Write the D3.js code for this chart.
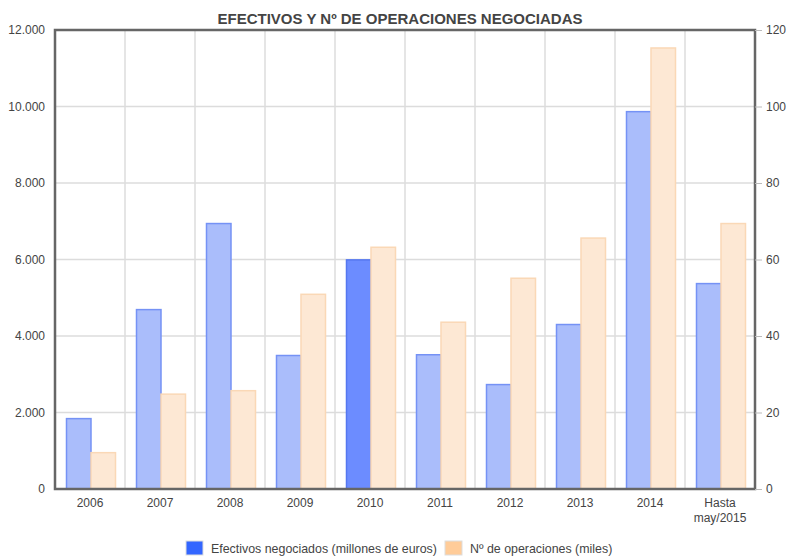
<!DOCTYPE html>
<html>
<head>
<meta charset="utf-8">
<script src="https://cdn.jsdelivr.net/npm/d3@7"></script>
<style>
  body { margin: 0; background: #fff; }
  text { font-family: "Liberation Sans", Arial, sans-serif; fill: #444; }
</style>
</head>
<body>
<svg width="790" height="557"></svg>
<script>
const categories = ["2006", "2007", "2008", "2009", "2010", "2011", "2012", "2013", "2014", "Hasta may/2015"];
const efectivos = [1840, 4690, 6940, 3490, 5990, 3510, 2730, 4300, 9865, 5370];
const operaciones = [9.5, 24.8, 25.7, 50.9, 63.2, 43.6, 55.1, 65.6, 115.3, 69.4];
const leftTicks = [0, 2000, 4000, 6000, 8000, 10000, 12000];
const rightTicks = [0, 20, 40, 60, 80, 100, 120];
const highlight = "2010";

const margin = { top: 30, right: 35, bottom: 68, left: 55 };
const svg = d3.select("svg");
const width = +svg.attr("width") - margin.left - margin.right;
const height = +svg.attr("height") - margin.top - margin.bottom;
const g = svg.append("g").attr("transform", `translate(${margin.left},${margin.top})`);

const data = categories.map((c, i) => ({ cat: c, ef: efectivos[i], op: operaciones[i] }));

const x = d3.scaleBand().domain(categories).range([0, width]);
const yL = d3.scaleLinear().domain([0, 12000]).range([height, 0]);
const yR = d3.scaleLinear().domain([0, 120]).range([height, 0]);
const fmt = d3.format(",");
const esFmt = v => fmt(v).replace(/,/g, ".");

// title
svg.append("text")
    .attr("x", 400)
    .attr("y", 24)
    .attr("text-anchor", "middle")
    .style("font-size", "15px")
    .style("font-weight", "bold")
    .text("EFECTIVOS Y Nº DE OPERACIONES NEGOCIADAS");

// gridlines
g.append("g").selectAll("line")
    .data(leftTicks)
    .enter().append("line")
    .attr("x1", 0).attr("x2", width)
    .attr("y1", d => yL(d)).attr("y2", d => yL(d))
    .attr("stroke", "#dcdcdc").attr("stroke-width", 1.5);

g.append("g").selectAll("line")
    .data(categories.slice(1))
    .enter().append("line")
    .attr("x1", d => x(d)).attr("x2", d => x(d))
    .attr("y1", 0).attr("y2", height)
    .attr("stroke", "#dcdcdc").attr("stroke-width", 1.5);

// bars
const barW = 24.5;
const groups = g.selectAll(".grp")
    .data(data)
    .enter().append("g")
    .attr("class", "grp")
    .attr("transform", d => `translate(${x(d.cat) + x.bandwidth() / 2},0)`);

groups.append("rect")
    .attr("x", -barW + 1)
    .attr("y", d => yL(d.ef))
    .attr("width", barW)
    .attr("height", d => height - yL(d.ef))
    .attr("fill", d => d.cat === highlight ? "#6c8cff" : "#aabdfb")
    .attr("stroke", d => d.cat === highlight ? "#5577f0" : "#7592f5")
    .attr("stroke-width", 1.5);

groups.append("rect")
    .attr("x", 1)
    .attr("y", d => yR(d.op))
    .attr("width", barW)
    .attr("height", d => height - yR(d.op))
    .attr("fill", "#fde8d4")
    .attr("stroke", "#fad8b6")
    .attr("stroke-width", 1.5);

// frame
g.append("rect")
    .attr("x", 0).attr("y", 0)
    .attr("width", width).attr("height", height)
    .attr("fill", "none")
    .attr("stroke", "#666").attr("stroke-width", 2.5);

// left axis labels
g.append("g")
    .call(d3.axisLeft(yL).tickValues(leftTicks).tickFormat(esFmt).tickSize(0).tickPadding(10))
    .call(a => a.select(".domain").remove())
    .selectAll("text")
    .style("font-size", "12px")
    .style("font-family", "Liberation Sans, Arial, sans-serif")
    .attr("fill", "#444");

// right axis
g.append("g")
    .attr("transform", `translate(${width},0)`)
    .call(d3.axisRight(yR).tickValues(rightTicks).tickSize(7).tickPadding(4))
    .call(a => a.select(".domain").remove())
    .call(a => a.selectAll("line").attr("stroke", "#bbb"))
    .selectAll("text")
    .style("font-size", "12px")
    .style("font-family", "Liberation Sans, Arial, sans-serif")
    .attr("fill", "#444");

// x labels
const xl = g.append("g")
    .attr("transform", `translate(0,${height})`)
    .selectAll("text")
    .data(categories)
    .enter().append("text")
    .attr("x", d => x(d) + x.bandwidth() / 2)
    .attr("y", 18)
    .attr("text-anchor", "middle")
    .style("font-size", "12px");
xl.each(function(d) {
    const parts = d.startsWith("Hasta") ? ["Hasta", d.replace("Hasta ", "")] : [d];
    d3.select(this).selectAll("tspan")
        .data(parts)
        .enter().append("tspan")
        .attr("x", x(d) + x.bandwidth() / 2)
        .attr("dy", (p, i) => i === 0 ? 0 : 15)
        .text(p => p);
});

// legend
const legend = svg.append("g").attr("transform", "translate(0,549)");
const legendItems = [
    { label: "Efectivos negociados (millones de euros)", color: "#3366ff", x: 186 },
    { label: "Nº de operaciones (miles)", color: "#ffcc99", x: 445 }
];
legendItems.forEach(it => {
    legend.append("rect")
        .attr("x", it.x).attr("y", -8)
        .attr("width", 17).attr("height", 14)
        .attr("fill", it.color)
        .attr("stroke", "#ddd");
    legend.append("text")
        .attr("x", it.x + 25).attr("y", 4)
        .style("font-size", "12.4px")
        .text(it.label);
});
</script>
</body>
</html>
